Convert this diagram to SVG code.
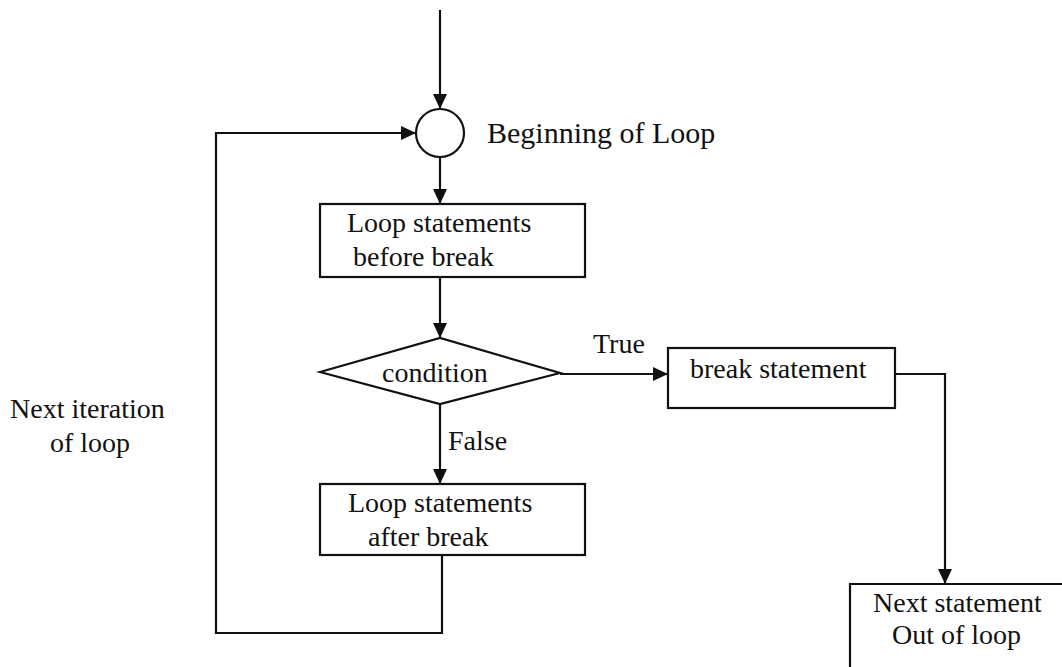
<svg xmlns="http://www.w3.org/2000/svg" width="1062" height="667" viewBox="0 0 1062 667">
<style>
.shape{fill:#fff;stroke:#111;stroke-width:2.2}
.line{fill:none;stroke:#111;stroke-width:2.2}
.t{font-family:"Liberation Serif","Times New Roman",serif;font-size:28px;fill:#111}
</style>
<defs>
<marker id="arr" markerUnits="userSpaceOnUse" markerWidth="15" markerHeight="14" refX="15" refY="7" orient="auto">
<path d="M0,0 L15,7 L0,14 z" fill="#111"/>
</marker>
</defs>
<rect width="1062" height="667" fill="#fff"/>
<g id="connectors">
<path class="line" d="M440,10 V109" marker-end="url(#arr)"/>
<path class="line" d="M440,157 V204" marker-end="url(#arr)"/>
<path class="line" d="M440,277 V338" marker-end="url(#arr)"/>
<path class="line" d="M560,374 H668" marker-end="url(#arr)"/>
<path class="line" d="M440,404 V484" marker-end="url(#arr)"/>
<path class="line" d="M895,374 H945 V584" marker-end="url(#arr)"/>
<path class="line" d="M442,555 V633 H216 V133 H416" marker-end="url(#arr)"/>
</g>
<g id="begin">
<circle class="shape" cx="440" cy="133" r="24"/>
<text class="t" x="487" y="143" style="font-size:30px">Beginning of Loop</text>
</g>
<g id="before">
<rect class="shape" x="320" y="204" width="265" height="73"/>
<text class="t" x="347" y="232">Loop statements</text>
<text class="t" x="353" y="266">before break</text>
</g>
<g id="condition">
<polygon class="shape" points="320,372 440,338 560,373 440,404"/>
<text class="t" x="382" y="382">condition</text>
</g>
<g id="break">
<rect class="shape" x="668" y="348" width="227" height="60"/>
<text class="t" x="690" y="378">break statement</text>
</g>
<g id="after">
<rect class="shape" x="320" y="484" width="265" height="71"/>
<text class="t" x="348" y="512">Loop statements</text>
<text class="t" x="368" y="546">after break</text>
</g>
<g id="next">
<path class="line" d="M850,667 V584 H1062"/>
<text class="t" x="873" y="612">Next statement</text>
<text class="t" x="892" y="644">Out of loop</text>
</g>
<g id="labels">
<text class="t" x="593" y="353">True</text>
<text class="t" x="448" y="450">False</text>
<text class="t" x="10" y="418">Next iteration</text>
<text class="t" x="50" y="452">of loop</text>
</g>
</svg>
